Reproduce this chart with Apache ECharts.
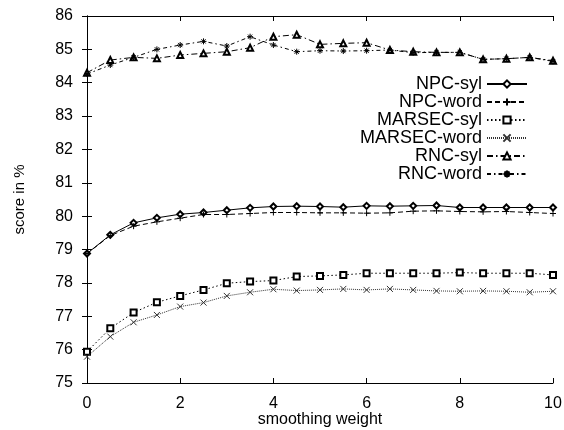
<!DOCTYPE html>
<html>
<head>
<meta charset="utf-8">
<script src="https://cdn.jsdelivr.net/npm/echarts@6/dist/echarts.min.js"></script>
<style>html,body{margin:0;padding:0;background:#fff;}#c{width:564px;height:430px;}</style>
</head>
<body>
<div id="c"></div>
<script>
const xs = [0, 0.5, 1, 1.5, 2, 2.5, 3, 3.5, 4, 4.5, 5, 5.5, 6, 6.5, 7, 7.5, 8, 8.5, 9, 9.5, 10];
const npcSyl = [78.88, 79.44, 79.80, 79.95, 80.06, 80.11, 80.18, 80.25, 80.29, 80.30, 80.29, 80.27, 80.31, 80.30, 80.31, 80.32, 80.26, 80.26, 80.26, 80.26, 80.26];
const npcWord = [78.88, 79.42, 79.70, 79.83, 79.94, 80.05, 80.05, 80.08, 80.11, 80.11, 80.10, 80.10, 80.09, 80.10, 80.15, 80.16, 80.14, 80.13, 80.14, 80.11, 80.08];
const marsecSyl = [75.94, 76.64, 77.11, 77.42, 77.61, 77.79, 77.99, 78.04, 78.07, 78.19, 78.21, 78.24, 78.29, 78.29, 78.29, 78.29, 78.31, 78.29, 78.29, 78.29, 78.24];
const marsecWord = [75.79, 76.39, 76.82, 77.04, 77.29, 77.41, 77.61, 77.72, 77.81, 77.77, 77.79, 77.82, 77.79, 77.82, 77.79, 77.76, 77.75, 77.76, 77.75, 77.72, 77.75];
const rncSyl = [84.30, 84.68, 84.76, 84.73, 84.83, 84.88, 84.93, 85.05, 85.38, 85.44, 85.15, 85.18, 85.20, 84.98, 84.93, 84.91, 84.91, 84.70, 84.72, 84.76, 84.66];
const rncWord = [84.26, 84.53, 84.76, 85.00, 85.13, 85.24, 85.10, 85.38, 85.13, 84.93, 84.96, 84.95, 84.96, 84.98, 84.90, 84.91, 84.91, 84.70, 84.72, 84.76, 84.64];
const seriesNames = ['NPC-syl', 'NPC-word', 'MARSEC-syl', 'MARSEC-word', 'RNC-syl', 'RNC-word'];

const FONT = 'Liberation Sans';
const pair = arr => xs.map((x, i) => [x, arr[i]]);
const PLUS = 'path://M0,5L10,5M5,0L5,10';
const CROSS = 'path://M0,0L10,10M10,0L0,10';
const STAR = 'path://M0,5L10,5M5,0L5,10M1.5,1.5L8.5,8.5M8.5,1.5L1.5,8.5';

function mk(name, data, symbol, size, dash, color) {
  return {
    name: name, type: 'line', data: pair(data),
    symbol: symbol, symbolSize: size, showAllSymbol: true,
    lineStyle: { color: color, width: 1, type: dash },
    itemStyle: { color: color, borderColor: color, borderWidth: 1 },
    emphasis: { disabled: true },
    animation: false
  };
}

const chart = echarts.init(document.getElementById('c'), null, { renderer: 'canvas' });
const axisCommon = {
  axisLine: { show: true, lineStyle: { color: '#000', width: 1 } },
  axisTick: { show: true, inside: true, length: 5, lineStyle: { color: '#000' } },
  splitLine: { show: false }
};
chart.setOption({
  animation: false,
  backgroundColor: '#fff',
  grid: { left: 87, right: 11, top: 16, bottom: 47, containLabel: false, outerBoundsMode: 'none' },
  legend: {
    orient: 'vertical', right: 36, top: 75, padding: 0,
    align: 'right', itemWidth: 40, itemHeight: 9, itemGap: 0,
    textStyle: { fontFamily: FONT, fontSize: 18, color: '#000', lineHeight: 18 },
    data: seriesNames
  },
  xAxis: [
    Object.assign({}, axisCommon, {
      type: 'value', min: 0, max: 10, interval: 2, position: 'bottom',
      axisLabel: { fontFamily: FONT, fontSize: 16, color: '#000', margin: 13 },
      name: 'smoothing weight', nameLocation: 'middle', nameGap: 29, nameMoveOverlap: false,
      nameTextStyle: { fontFamily: FONT, fontSize: 16, color: '#000', verticalAlign: 'top', lineHeight: 16 }
    }),
    Object.assign({}, axisCommon, {
      type: 'value', min: 0, max: 10, interval: 2, position: 'top',
      axisLabel: { show: false }
    })
  ],
  yAxis: [
    Object.assign({}, axisCommon, {
      type: 'value', min: 75, max: 86, interval: 1, position: 'left',
      axisLabel: { fontFamily: FONT, fontSize: 16, color: '#000', margin: 14 },
      name: 'score in %', nameLocation: 'middle', nameGap: 60, nameRotate: 90, nameMoveOverlap: false,
      nameTextStyle: { fontFamily: FONT, fontSize: 15, color: '#000' }
    }),
    Object.assign({}, axisCommon, {
      type: 'value', min: 75, max: 86, interval: 1, position: 'right',
      axisLabel: { show: false }
    })
  ],
  series: [
    mk('NPC-syl', npcSyl, 'emptyDiamond', 6, 'solid', '#000'),
    mk('NPC-word', npcWord, PLUS, 6, [5, 3], '#000'),
    mk('MARSEC-syl', marsecSyl, 'emptyRect', 6, [1.5, 2.5], '#000'),
    mk('MARSEC-word', marsecWord, CROSS, 6, [1, 1], '#333'),
    mk('RNC-syl', rncSyl, 'emptyTriangle', 6, [6, 3, 1.5, 3], '#000'),
    mk('RNC-word', rncWord, STAR, 6, [4, 3, 1.5, 3], '#000')
  ]
});
</script>
</body>
</html>
